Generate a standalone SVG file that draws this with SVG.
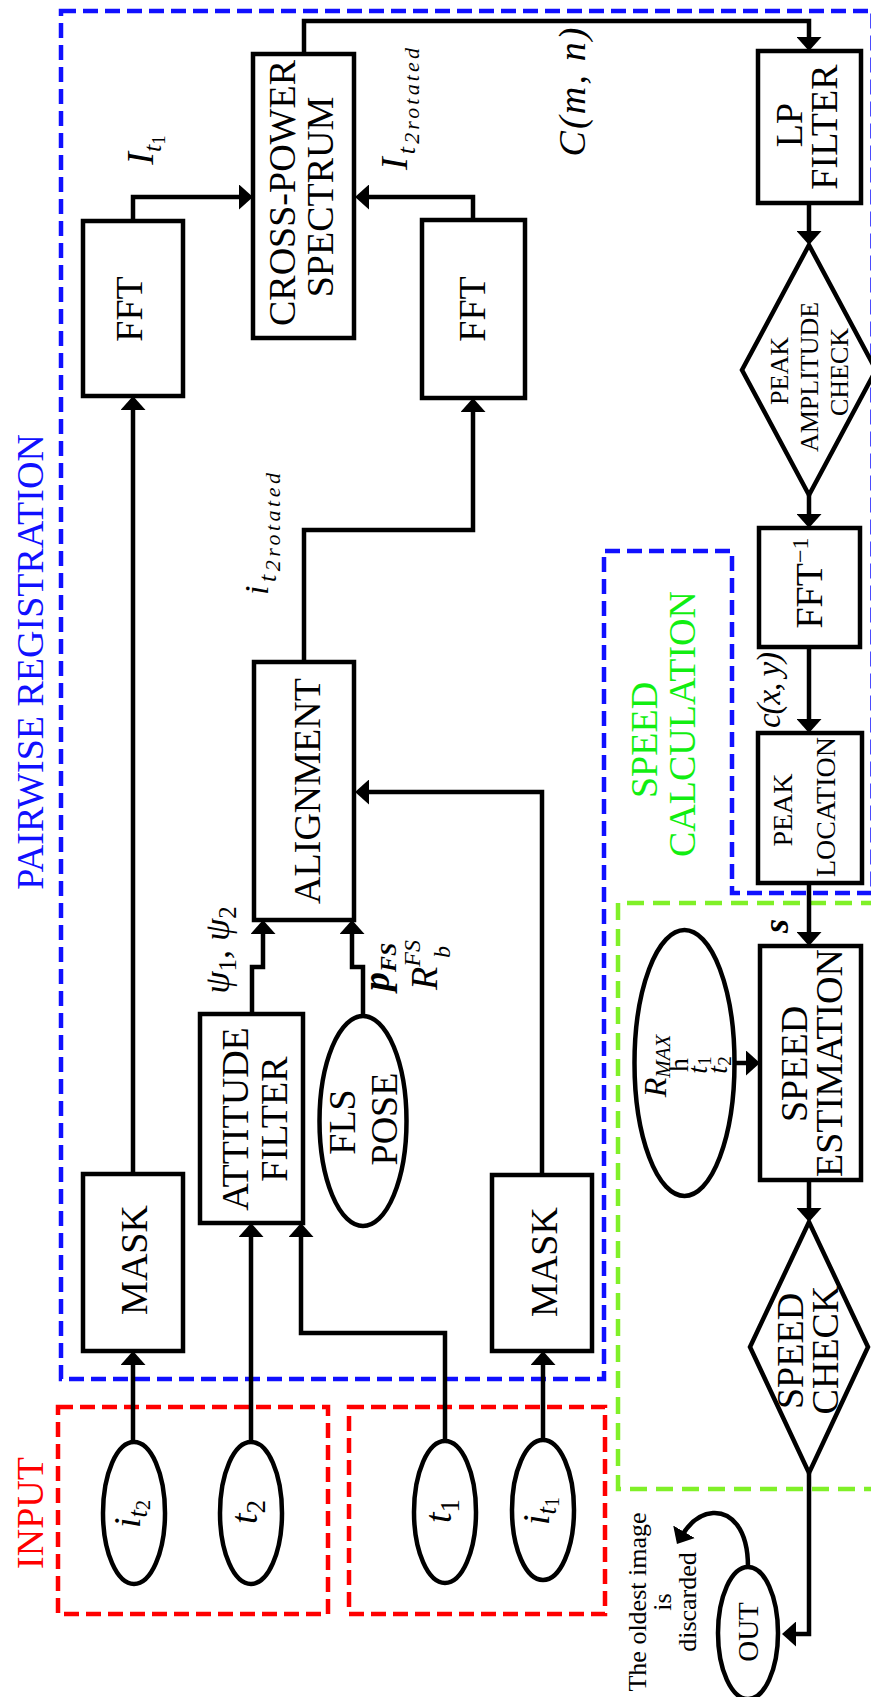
<svg xmlns="http://www.w3.org/2000/svg" width="871" height="1697" viewBox="0 0 871 1697">
<defs>
<style>
.bx{fill:#fff;stroke:#000;stroke-width:4.5}
.cn{fill:none;stroke:#000;stroke-width:4.5;stroke-linejoin:miter}
.t{font-family:"Liberation Serif","Times New Roman",serif;font-size:38px;text-anchor:middle;fill:#000}
.m{font-style:italic}
.bd{font-weight:bold}
.blue{fill:none;stroke:#1010ff;stroke-width:4.5;stroke-dasharray:15 7}
.red{fill:none;stroke:#ff0000;stroke-width:4.5;stroke-dasharray:15 7}
.green{fill:none;stroke:#80f028;stroke-width:4.5;stroke-dasharray:17 9}
</style>
<marker id="ah" markerUnits="userSpaceOnUse" markerWidth="14" markerHeight="25" viewBox="0 0 14 25" refX="6" refY="12.5" orient="auto"><path d="M0,0 L14,12.5 L0,25 Z" fill="#000"/></marker>
</defs>
<rect width="871" height="1697" fill="#fff"/>

<g id="regions">
<path class="blue" d="M61,11 H872.5 V893 H732 V551 H604 V1379 H61 Z"/>
<path class="green" d="M878,903 H618 V1489 H878"/>
<rect class="red" x="58" y="1407" width="270" height="207"/>
<rect class="red" x="349" y="1407" width="256" height="207"/>
<text class="t" style="fill:#1010ff" transform="translate(43,662) rotate(-90)">PAIRWISE REGISTRATION</text>
<text class="t" style="fill:#ff0000" transform="translate(43,1513) rotate(-90)">INPUT</text>
<text class="t" style="fill:#11ee11" transform="translate(657,740) rotate(-90)">SPEED</text>
<text class="t" style="fill:#11ee11" transform="translate(695,724) rotate(-90)">CALCULATION</text>
</g>

<g id="connectors">
<path class="cn" d="M133,1442 V1359" marker-end="url(#ah)"/>
<path class="cn" d="M133,1174 V404" marker-end="url(#ah)"/>
<path class="cn" d="M133,221 V197 H245" marker-end="url(#ah)"/>
<path class="cn" d="M473,220 V197 H363" marker-end="url(#ah)"/>
<path class="cn" d="M304,54 V21 H809 V43" marker-end="url(#ah)"/>
<path class="cn" d="M809,203 V237" marker-end="url(#ah)"/>
<path class="cn" d="M809,495 V520" marker-end="url(#ah)"/>
<path class="cn" d="M809,647 V725" marker-end="url(#ah)"/>
<path class="cn" d="M809,883 V938" marker-end="url(#ah)"/>
<path class="cn" d="M735,1063 H752" marker-end="url(#ah)"/>
<path class="cn" d="M809,1180 V1214" marker-end="url(#ah)"/>
<path class="cn" d="M809,1473 V1634 H790" marker-end="url(#ah)"/>
<path class="cn" d="M748,1567 C748,1527 730,1512 713,1513 C698,1514 688,1525 681,1537" marker-end="url(#ah)"/>
<path class="cn" d="M251,1442 V1231" marker-end="url(#ah)"/>
<path class="cn" d="M445,1442 V1333 H301 V1231" marker-end="url(#ah)"/>
<path class="cn" d="M543,1441 V1359" marker-end="url(#ah)"/>
<path class="cn" d="M542,1175 V792 H363" marker-end="url(#ah)"/>
<path class="cn" d="M252,1014 V967 H263 V928" marker-end="url(#ah)"/>
<path class="cn" d="M363,1016 V967 H352 V928" marker-end="url(#ah)"/>
<path class="cn" d="M304,662 V530 H473 V406" marker-end="url(#ah)"/>
<text class="t m" transform="translate(153,150) rotate(-90)">I<tspan dy="8" font-size="26">t</tspan><tspan dy="4" font-size="19" style="font-style:normal">1</tspan></text>
<text class="t m" transform="translate(407,109) rotate(-90)" textLength="122" lengthAdjust="spacing">I<tspan dy="8" font-size="26">t</tspan><tspan dy="4" font-size="22">2rotated</tspan></text>
<text class="t m" style="font-size:34px" transform="translate(268,534) rotate(-90)" textLength="122" lengthAdjust="spacing">i<tspan dy="8" font-size="26">t</tspan><tspan dy="4" font-size="22">2rotated</tspan></text>
<text class="t m" transform="translate(585,92) rotate(-90)" textLength="129" lengthAdjust="spacing">C(m, n)</text>
<text class="t m" style="font-size:33px" transform="translate(780,690) rotate(-90)" textLength="76" lengthAdjust="spacing">c(x, y)</text>
<text class="t m" style="font-size:36px" transform="translate(229,950) rotate(-90)">ψ<tspan dy="7" font-size="25" style="font-style:normal">1</tspan><tspan dy="-7">, ψ</tspan><tspan dy="7" font-size="25" style="font-style:normal">2</tspan></text>
<text class="t m bd" style="text-anchor:start" transform="translate(389,991) rotate(-90)">p<tspan dy="7" font-size="24">FS</tspan></text>
<text class="t m" style="text-anchor:start" transform="translate(437,990) rotate(-90)">R<tspan dy="-17" font-size="24">FS</tspan></text>
<text class="t m" style="text-anchor:start;font-size:24px" transform="translate(450,958) rotate(-90)">b</text>
<text class="t m bd" style="font-size:36px" transform="translate(788,926) rotate(-90)">s</text>
</g>

<g id="fft1"><rect class="bx" x="83" y="221" width="100" height="175"/><text class="t" transform="translate(142,309) rotate(-90)">FFT</text></g>
<g id="fft2"><rect class="bx" x="422" y="220" width="103" height="178"/><text class="t" transform="translate(485,309) rotate(-90)">FFT</text></g>
<g id="crosspower"><rect class="bx" x="253" y="54" width="101" height="284"/><text class="t" transform="translate(295,193) rotate(-90)">CROSS-POWER</text><text class="t" transform="translate(333,197) rotate(-90)">SPECTRUM</text></g>
<g id="lpfilter"><rect class="bx" x="758" y="51" width="103" height="152"/><text class="t" transform="translate(802,125) rotate(-90)">LP</text><text class="t" transform="translate(837,127) rotate(-90)">FILTER</text></g>
<g id="peakamp"><polygon class="bx" points="809,245 876,370 809,495 742,370"/><text class="t" style="font-size:26px" transform="translate(788,371) rotate(-90)">PEAK</text><text class="t" style="font-size:26px" transform="translate(818,377) rotate(-90)">AMPLITUDE</text><text class="t" style="font-size:26px" transform="translate(848,372) rotate(-90)">CHECK</text></g>
<g id="ifft"><rect class="bx" x="759" y="528" width="101" height="119"/><text class="t" transform="translate(822,583) rotate(-90)">FFT<tspan dy="-14" font-size="24">−1</tspan></text></g>
<g id="peakloc"><rect class="bx" x="758" y="733" width="104" height="150"/><text class="t" style="font-size:28px" transform="translate(792,810) rotate(-90)">PEAK</text><text class="t" style="font-size:28px" transform="translate(835,807) rotate(-90)">LOCATION</text></g>
<g id="alignment"><rect class="bx" x="254" y="662" width="100" height="258"/><text class="t" transform="translate(320,791) rotate(-90)">ALIGNMENT</text></g>
<g id="attitude"><rect class="bx" x="200" y="1014" width="103" height="209"/><text class="t" transform="translate(248,1119) rotate(-90)">ATTITUDE</text><text class="t" transform="translate(287,1119) rotate(-90)">FILTER</text></g>
<g id="flspose"><ellipse class="bx" cx="363" cy="1121" rx="43.5" ry="105"/><text class="t" transform="translate(355,1122) rotate(-90)">FLS</text><text class="t" transform="translate(397,1119) rotate(-90)">POSE</text></g>
<g id="mask1"><rect class="bx" x="83" y="1174" width="100" height="177"/><text class="t" transform="translate(147,1260) rotate(-90)">MASK</text></g>
<g id="mask2"><rect class="bx" x="492" y="1175" width="100" height="176"/><text class="t" transform="translate(557,1262) rotate(-90)">MASK</text></g>
<g id="speedest"><rect class="bx" x="760" y="946" width="101" height="234"/><text class="t" transform="translate(807,1064) rotate(-90)">SPEED</text><text class="t" transform="translate(842,1063) rotate(-90)">ESTIMATION</text></g>
<g id="params"><ellipse class="bx" cx="684.5" cy="1063" rx="50" ry="133"/>
<text class="t m" style="font-size:32px" transform="translate(666,1066) rotate(-90)">R<tspan dy="4" font-size="21">MAX</tspan></text>
<text class="t" style="font-size:28px" transform="translate(688,1065) rotate(-90)">h</text>
<text class="t m" style="font-size:28px" transform="translate(707,1065) rotate(-90)">t<tspan dy="4" font-size="19" style="font-style:normal">1</tspan></text>
<text class="t m" style="font-size:28px" transform="translate(727,1065) rotate(-90)">t<tspan dy="4" font-size="19" style="font-style:normal">2</tspan></text>
</g>
<g id="speedcheck"><polygon class="bx" points="809,1222 868,1347 809,1473 750,1347"/><text class="t" transform="translate(803,1351) rotate(-90)">SPEED</text><text class="t" transform="translate(838,1350) rotate(-90)">CHECK</text></g>
<g id="out"><ellipse class="bx" cx="748" cy="1633" rx="30" ry="66"/><text class="t" style="font-size:29px" transform="translate(758,1632) rotate(-90)">OUT</text></g>
<g id="discard-note"><text class="t" style="font-size:26px" transform="translate(646,1602) rotate(-90)">The oldest image</text><text class="t" style="font-size:26px" transform="translate(671,1602) rotate(-90)">is</text><text class="t" style="font-size:26px" transform="translate(696,1602) rotate(-90)">discarded</text></g>
<g id="it2"><ellipse class="bx" cx="134" cy="1513" rx="31" ry="71"/><text class="t m" style="font-size:38px" transform="translate(140,1514) rotate(-90)">i<tspan dy="7" font-size="27">t</tspan><tspan dy="3" font-size="20" style="font-style:normal">2</tspan></text></g>
<g id="t2"><ellipse class="bx" cx="251" cy="1513" rx="31" ry="71"/><text class="t m" style="font-size:38px" transform="translate(257,1512) rotate(-90)">t<tspan dy="8" font-size="27" style="font-style:normal">2</tspan></text></g>
<g id="t1"><ellipse class="bx" cx="445" cy="1512" rx="31" ry="71"/><text class="t m" style="font-size:38px" transform="translate(451,1511) rotate(-90)">t<tspan dy="8" font-size="27" style="font-style:normal">1</tspan></text></g>
<g id="it1"><ellipse class="bx" cx="543" cy="1510" rx="31" ry="70"/><text class="t m" style="font-size:38px" transform="translate(549,1511) rotate(-90)">i<tspan dy="7" font-size="27">t</tspan><tspan dy="3" font-size="20" style="font-style:normal">1</tspan></text></g>
</svg>
